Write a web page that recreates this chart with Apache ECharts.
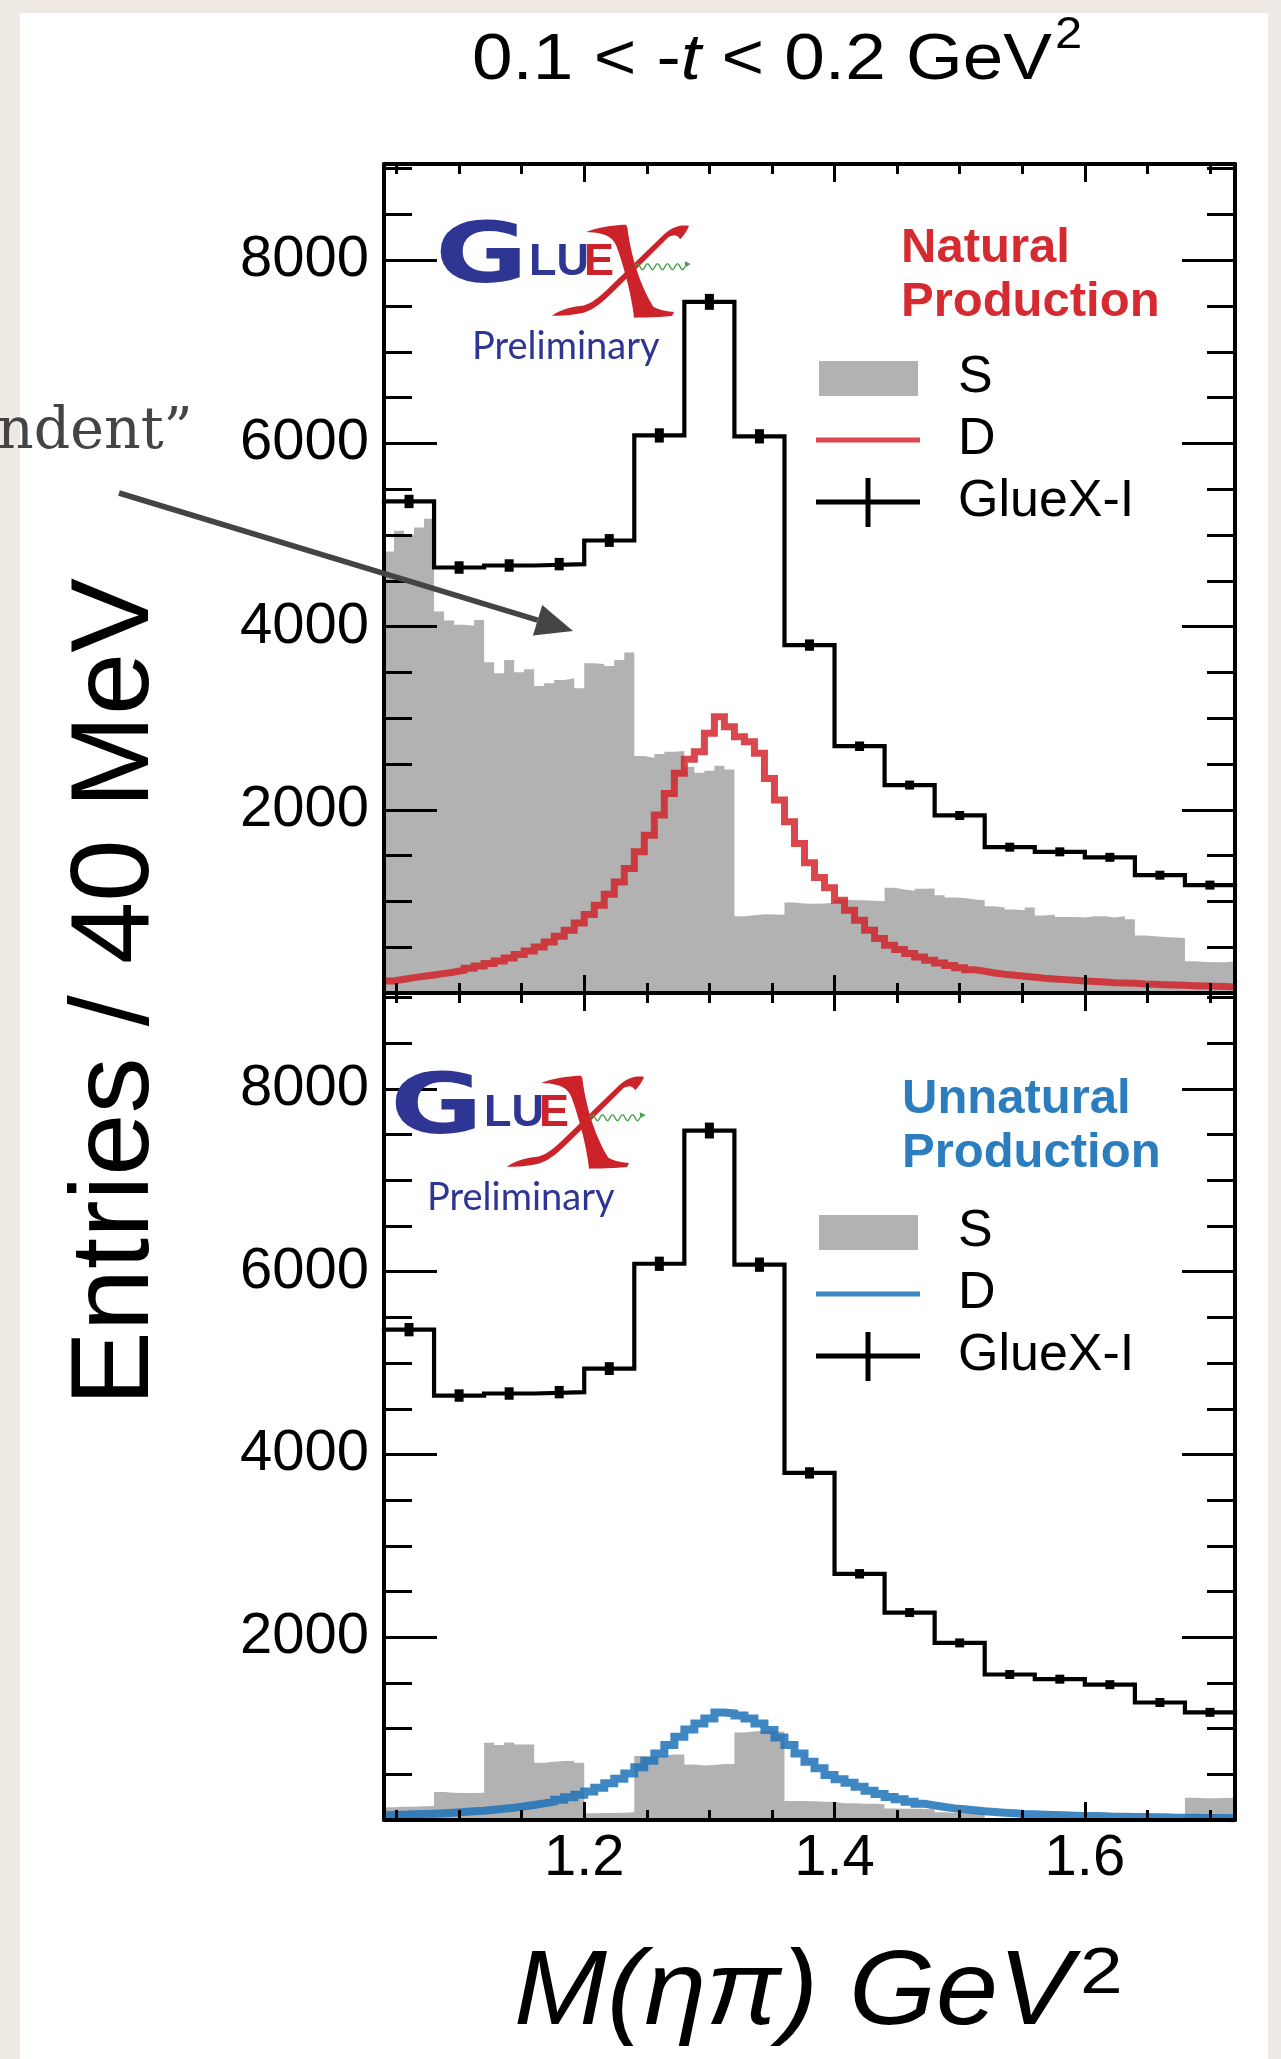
<!DOCTYPE html>
<html>
<head>
<meta charset="utf-8">
<script src="https://cdn.jsdelivr.net/npm/echarts@6/dist/echarts.min.js"></script>
<style>
  html, body { margin: 0; padding: 0; background: #eeeae3; }
  #sheet { position: absolute; left: 20px; top: 13px; width: 1248px; height: 2046px; background: #fff; }
  #chart { position: absolute; left: 0; top: 0; width: 1281px; height: 2059px; }
</style>
</head>
<body>
<div id="sheet"></div>
<div id="chart"></div>
<script>
// M(eta pi) spectra for 0.1 < -t < 0.2 GeV^2, natural (top) and unnatural (bottom) production
const X_MIN = 1.04;
const X_MAX = 1.72;
const COARSE_WIDTH = 0.04;   // 40 MeV data bins
const FINE_WIDTH = 0.008;    // 8 MeV model bins
const Y_MAX = 9050;

const xTickMajor = [1.2, 1.4, 1.6];
const xTickMinor = [1.05, 1.1, 1.15, 1.25, 1.3, 1.35, 1.45, 1.5, 1.55, 1.65, 1.7];
const yTickLabels = [2000, 4000, 6000, 8000];

// GlueX-I data, 40 MeV bins from 1.04 GeV
const glueXCounts = [5366, 4645, 4667, 4682, 4940, 6087, 7545, 6077, 3798, 2694, 2270, 1938, 1592, 1541, 1481, 1286, 1178];
const glueXErrors = [73, 68, 68, 68, 70, 78, 87, 78, 62, 52, 48, 44, 40, 39, 38, 36, 34];

// Natural production: S wave (filled) and D wave (line), 8 MeV bins from 1.04 GeV
const naturalS = [
  4820, 5046, 5002, 5082, 5177,
  4164, 4066, 4019, 4008, 4073,
  3611, 3490, 3636, 3501, 3534,
  3352, 3381, 3417, 3436, 3327,
  3600, 3592, 3570, 3636, 3716,
  2587, 2568, 2609, 2634, 2642,
  2470, 2404, 2426, 2481, 2441,
  838, 849, 860, 856, 853,
  988, 977, 973, 977, 984,
  1020, 1013, 1013, 1006, 1002,
  1148, 1130, 1115, 1137, 1141,
  1068, 1042, 1038, 1020, 1013,
  948, 933, 911, 904, 933,
  845, 856, 831, 831, 824,
  838, 838, 824, 838, 805,
  627, 620, 612, 605, 601,
  346, 339, 335, 335, 346
];
const naturalD = [
  131, 150, 168, 182, 197, 212, 230, 248, 270, 295,
  321, 350, 383, 419, 459, 503, 557, 620, 685, 765,
  857, 958, 1079, 1213, 1360, 1541, 1723, 1942, 2179, 2398,
  2551, 2634, 2835, 3016, 2907, 2798, 2743, 2616, 2343, 2106,
  1869, 1633, 1421, 1260, 1150, 1013, 904, 794, 685, 594,
  521, 474, 430, 393, 357, 328, 299, 277, 255, 237,
  219, 204, 193, 182, 172, 161, 153, 146, 139, 131,
  125, 120, 113, 109, 106, 98, 95, 91, 87, 84,
  80, 76, 73, 70, 66
];

// Unnatural production
const unnaturalS = [
  139, 146, 146, 150, 153,
  306, 299, 295, 295, 299,
  845, 820, 849, 827, 827,
  626, 637, 645, 648, 626,
  73, 76, 76, 80, 84,
  699, 692, 703, 717, 717,
  608, 597, 601, 612, 612,
  958, 969, 976, 973, 965,
  208, 208, 204, 200, 197,
  182, 182, 179, 179, 171,
  127, 124, 124, 120, 117,
  84, 80, 80, 76, 73,
  12, 12, 10, 10, 10,
  14, 14, 12, 12, 12,
  16, 16, 14, 14, 14,
  18, 18, 16, 16, 16,
  244, 237, 237, 240, 244
];
const unnaturalD = [
  55, 58, 62, 66, 69, 73, 80, 87, 95, 102,
  113, 124, 135, 149, 164, 182, 200, 222, 248, 277,
  313, 353, 401, 452, 510, 576, 648, 729, 820, 911,
  991, 1057, 1111, 1177, 1166, 1144, 1111, 1057, 984, 904,
  820, 729, 637, 565, 492, 446, 408, 364, 320, 284,
  251, 226, 200, 178, 160, 142, 127, 117, 106, 95,
  87, 80, 73, 66, 62, 58, 55, 51, 47, 44,
  44, 40, 36, 36, 33, 33, 29, 29, 25, 25,
  25, 22, 22, 22, 18
];

const FONT = 'Liberation Sans, Arial, Helvetica, sans-serif';
const GRAY = '#b2b2b2';
const RED_LINE = 'rgba(210, 30, 38, 0.82)';
const BLUE_LINE = 'rgba(30, 115, 185, 0.86)';
const RED_TEXT = '#d52a30';
const BLUE_TEXT = '#2b7dbd';
const NAVY = '#2e3592';
const LOGO_RED = '#cc2229';
const LOGO_GREEN = '#43a047';

// histogram -> step polyline points (left edges plus closing right edge)
function stepPoints(values, width) {
  const pts = values.map((v, i) => [+(X_MIN + i * width).toFixed(4), v]);
  pts.push([X_MAX, values[values.length - 1]]);
  return pts;
}
function errorPoints() {
  return glueXCounts.map((v, i) => [+(X_MIN + (i + 0.5) * COARSE_WIDTH).toFixed(4), v, glueXErrors[i]]);
}

function renderErrorBar(params, api) {
  const x = api.value(0), v = api.value(1), e = api.value(2);
  const hi = api.coord([x, v + e]);
  const lo = api.coord([x, v - e]);
  let y = hi[1], h = lo[1] - hi[1];
  if (h < 9) { y = (hi[1] + lo[1]) / 2 - 4.5; h = 9; }
  return { type: 'rect', shape: { x: hi[0] - 4.5, y: y, width: 9, height: h }, style: { fill: '#000' } };
}

function xAxes(gridIndex, withLabels) {
  const base = { type: 'value', gridIndex: gridIndex, min: X_MIN, max: X_MAX, z: 10, splitLine: { show: false } };
  const line = { show: true, onZero: false, lineStyle: { color: '#000', width: 4 } };
  const major = { show: true, inside: true, length: 18, customValues: xTickMajor, lineStyle: { color: '#000', width: 3 } };
  const minor = { show: true, inside: true, length: 10, customValues: xTickMinor, lineStyle: { color: '#000', width: 3 } };
  return [
    Object.assign({}, base, { position: 'bottom', axisLine: line, axisTick: major,
      axisLabel: { show: withLabels, customValues: xTickMajor, formatter: v => v.toFixed(1),
        fontSize: 58, fontFamily: FONT, color: '#000', margin: 10 } }),
    Object.assign({}, base, { position: 'bottom', axisLine: { show: false, onZero: false }, axisTick: minor, axisLabel: { show: false } }),
    Object.assign({}, base, { position: 'top', axisLine: line, axisTick: major, axisLabel: { show: false } }),
    Object.assign({}, base, { position: 'top', axisLine: { show: false, onZero: false }, axisTick: minor, axisLabel: { show: false } })
  ];
}

function yAxes(gridIndex) {
  const base = {
    type: 'value', gridIndex: gridIndex, min: 0, max: Y_MAX, interval: 2000, z: 10,
    splitLine: { show: false },
    axisLine: { show: true, onZero: false, lineStyle: { color: '#000', width: 4 } },
    axisTick: { show: true, inside: true, length: 53, lineStyle: { color: '#000', width: 3 } },
    minorTick: { show: true, splitNumber: 4, length: 28, lineStyle: { color: '#000', width: 3 } }
  };
  return [
    Object.assign({}, base, { position: 'left',
      axisLabel: { show: true, fontSize: 58, fontFamily: FONT, color: '#000', margin: 15,
        formatter: v => (yTickLabels.indexOf(v) >= 0 ? String(v) : '') } }),
    Object.assign({}, base, { position: 'right', axisLabel: { show: false } })
  ];
}

function panelSeries(xIdx, yIdx, sValues, dValues, dColor, dWidth) {
  return [
    { type: 'line', xAxisIndex: xIdx, yAxisIndex: yIdx, step: 'end', data: stepPoints(sValues, FINE_WIDTH),
      showSymbol: false, silent: true, z: 2,
      lineStyle: { width: 0, opacity: 0 }, areaStyle: { color: GRAY, opacity: 1 } },
    { type: 'line', xAxisIndex: xIdx, yAxisIndex: yIdx, step: 'end', data: stepPoints(dValues, FINE_WIDTH),
      showSymbol: false, silent: true, z: 3,
      lineStyle: { color: dColor, width: dWidth, cap: 'butt', join: 'miter' } },
    { type: 'line', xAxisIndex: xIdx, yAxisIndex: yIdx, step: 'end', data: stepPoints(glueXCounts, COARSE_WIDTH),
      showSymbol: false, silent: true, z: 4,
      lineStyle: { color: '#000', width: 4.2, cap: 'square', join: 'miter' } },
    { type: 'custom', xAxisIndex: xIdx, yAxisIndex: yIdx, data: errorPoints(), encode: { x: 0, y: 1 },
      renderItem: renderErrorBar, silent: true, z: 5 }
  ];
}

function txt(x, y, text, opts) {
  return { type: 'text', x: x, y: y, silent: true, z: 20,
    style: Object.assign({ text: text, fontFamily: FONT, fill: '#000',
      align: 'left', textAlign: 'left', verticalAlign: 'middle', textVerticalAlign: 'middle' }, opts || {}) };
}

// outline of the logo's X, as absolute M/L/C/Z commands, flattened to a polygon
const X_STROKE = 'M648,246 C680,232 730,226 768,224 L772,232 C780,300 805,400 850,470 C870,482 895,484 912,486 L906,498 C870,502 830,502 792,503 C785,440 765,360 740,290 C728,258 700,248 648,246 Z';
const X_SWASH = 'M545,497 C575,478 605,470 630,468 C660,466 690,440 720,410 L880,255 C905,232 930,222 957,228 C950,245 940,258 930,268 C925,255 910,252 895,262 L735,420 C700,455 670,480 640,488 C610,495 575,498 545,497 Z';

function outlinePoints(d) {
  const tokens = d.match(/[MLCZ]|-?\d+(\.\d+)?/g);
  const pts = [];
  let i = 0, cur = [0, 0];
  const num = () => parseFloat(tokens[i++]);
  while (i < tokens.length) {
    const cmd = tokens[i++];
    if (cmd === 'M' || cmd === 'L') {
      cur = [num(), num()];
      pts.push(cur);
    } else if (cmd === 'C') {
      const p1 = [num(), num()], p2 = [num(), num()], p3 = [num(), num()];
      const p0 = cur;
      for (let s = 1; s <= 12; s++) {
        const t = s / 12, u = 1 - t;
        pts.push([
          u * u * u * p0[0] + 3 * u * u * t * p1[0] + 3 * u * t * t * p2[0] + t * t * t * p3[0],
          u * u * u * p0[1] + 3 * u * u * t * p1[1] + 3 * u * t * t * p2[1] + t * t * t * p3[1]
        ]);
      }
      cur = p3;
    }
  }
  return pts;
}

function logo(dx, dy) {
  const wave = [];
  for (let t = 0; t <= 150; t += 3) wave.push([795 + t, 350 - 9 * Math.sin(t / 30 * 2 * Math.PI)]);
  return [
    { type: 'group', x: 481.5 + dx, y: 260 + dy, scaleX: 1.35, z: 20,
      children: [txt(0, 0, 'G', { fontFamily: 'DejaVu Sans', fontWeight: 'bold', fontSize: 84, fill: NAVY, align: 'center', textAlign: 'center' })] },
    txt(529 + dx, 263 + dy, 'LU', { fontWeight: 'bold', fontSize: 45, fill: NAVY }),
    txt(584 + dx, 263 + dy, 'E', { fontWeight: 'bold', fontSize: 45, fill: LOGO_RED }),
    { type: 'group', x: 370 + dx, y: 150 + dy, scaleX: 1 / 3, scaleY: 1 / 3, z: 20, children: [
      { type: 'polygon', shape: { points: outlinePoints(X_SWASH) }, style: { fill: LOGO_RED } },
      { type: 'polygon', shape: { points: outlinePoints(X_STROKE) }, style: { fill: LOGO_RED } },
      { type: 'polyline', shape: { points: wave }, style: { stroke: LOGO_GREEN, lineWidth: 4, fill: null } },
      { type: 'polygon', shape: { points: [[944, 334], [962, 342], [946, 352]] }, style: { fill: LOGO_GREEN } }
    ] },
    txt(472 + dx, 347 + dy, 'Preliminary', { fontFamily: 'Lato, Open Sans, sans-serif', fontSize: 38, fill: NAVY })
  ];
}

function legend(dy, dColor, dWidth) {
  return [
    { type: 'rect', shape: { x: 819, y: 361 + dy, width: 99, height: 35 }, style: { fill: GRAY }, z: 20 },
    { type: 'line', shape: { x1: 816, y1: 440 + dy, x2: 920, y2: 440 + dy }, style: { stroke: dColor, lineWidth: dWidth }, z: 20 },
    { type: 'line', shape: { x1: 816, y1: 502 + dy, x2: 920, y2: 502 + dy }, style: { stroke: '#000', lineWidth: 5 }, z: 20 },
    { type: 'line', shape: { x1: 868, y1: 478 + dy, x2: 868, y2: 527 + dy }, style: { stroke: '#000', lineWidth: 5 }, z: 20 },
    txt(958, 378 + dy, 'S', { fontSize: 52 }),
    txt(958, 440 + dy, 'D', { fontSize: 52 }),
    txt(958, 502 + dy, 'GlueX-I', { fontSize: 52 })
  ];
}

// arrow pointing into the top panel
const ARROW_START = [119, 493];
const ARROW_TIP = [573, 631];
const arrowDx = ARROW_TIP[0] - ARROW_START[0], arrowDy = ARROW_TIP[1] - ARROW_START[1];
const arrowLen = Math.hypot(arrowDx, arrowDy);
const ux = arrowDx / arrowLen, uy = arrowDy / arrowLen;
const baseX = ARROW_TIP[0] - 37 * ux, baseY = ARROW_TIP[1] - 37 * uy;

const yTitle = txt(117, 992, 'Entries / 40 MeV', { fontSize: 112, align: 'center', textAlign: 'center' });
yTitle.rotation = Math.PI / 2;

const graphics = [].concat(
  [
    { type: 'group', x: 472, y: 61, scaleX: 1.14, z: 20, children: [
      { type: 'text', x: 0, y: 0, style: { text: '{n|0.1 < -}{i|t}{n| < 0.2 GeV}',
        align: 'left', textAlign: 'left', verticalAlign: 'middle', textVerticalAlign: 'middle',
        rich: { n: { fontSize: 64, fontFamily: FONT, fill: '#000', color: '#000' },
                i: { fontSize: 64, fontFamily: FONT, fontStyle: 'italic', fill: '#000', color: '#000' } } } }
    ] },
    { type: 'group', x: 1055, y: 36, scaleX: 1.11, z: 20, children: [txt(0, 0, '2', { fontSize: 44 })] },
    yTitle,
    { type: 'group', x: 514, y: 1995, scaleX: 1.053, z: 20, children: [txt(0, 0, 'M(ηπ) GeV', { fontSize: 106, fontStyle: 'italic' })] },
    { type: 'group', x: 1080, y: 1975, scaleX: 1.2, z: 20, children: [txt(0, 0, '2', { fontSize: 64 })] },
    txt(-3, 433, 'ndent\u201D', { fontFamily: 'DejaVu Serif, serif', fontSize: 57, fill: '#444' }),
    { type: 'line', shape: { x1: ARROW_START[0], y1: ARROW_START[1], x2: baseX, y2: baseY }, style: { stroke: '#444', lineWidth: 5.5 }, z: 21 },
    { type: 'polygon', shape: { points: [ARROW_TIP, [baseX - 16 * uy, baseY + 16 * ux], [baseX + 16 * uy, baseY - 16 * ux]] }, style: { fill: '#444' }, z: 21 },
    txt(901, 248, 'Natural', { fontSize: 49, fontWeight: 'bold', fill: RED_TEXT }),
    txt(901, 302, 'Production', { fontSize: 49, fontWeight: 'bold', fill: RED_TEXT }),
    txt(902, 1099, 'Unnatural', { fontSize: 49, fontWeight: 'bold', fill: BLUE_TEXT }),
    txt(902, 1153, 'Production', { fontSize: 49, fontWeight: 'bold', fill: BLUE_TEXT })
  ],
  logo(0, 0),
  logo(-45, 851),
  legend(0, RED_LINE, 5),
  legend(854, BLUE_LINE, 5)
);

const chart = echarts.init(document.getElementById('chart'), null, { renderer: 'canvas' });
chart.setOption({
  animation: false,
  backgroundColor: 'transparent',
  grid: [
    { left: 384, top: 164, width: 851, height: 829 },
    { left: 384, top: 993, width: 851, height: 827 }
  ],
  xAxis: [].concat(xAxes(0, false), xAxes(1, true)),
  yAxis: [].concat(yAxes(0), yAxes(1)),
  series: [].concat(
    panelSeries(0, 0, naturalS, naturalD, RED_LINE, 7),
    panelSeries(4, 2, unnaturalS, unnaturalD, BLUE_LINE, 8)
  ),
  graphic: { elements: graphics }
});
</script>
</body>
</html>
